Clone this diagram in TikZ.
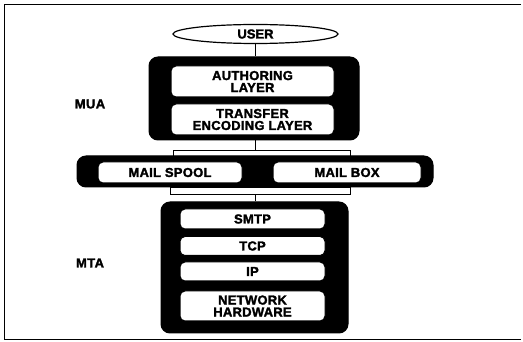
\documentclass[tikz,border=0pt]{standalone}
\usepackage{fontspec}
\setmainfont{Liberation Sans}
\usetikzlibrary{shapes.geometric}

\tikzset{
	stackbox/.style={shape=rectangle, draw, fill=black, rounded corners=9pt, line width=1pt},
	layerbox/.style={shape=rectangle, draw, fill=white, rounded corners=5pt, line width=1pt, align=center, inner sep=0pt,
		font=\bfseries\fontsize{13}{12}\selectfont\addfontfeature{LetterSpace=2,FakeBold=2}},
	barbox/.style={shape=rectangle, draw, fill=white, line width=1pt, inner sep=0pt},
	sidelabel/.style={font=\bfseries\fontsize{13}{13}\selectfont\addfontfeature{LetterSpace=3,FakeBold=2}},
	wire/.style={line width=1.2pt}
}

\begin{document}
\begin{tikzpicture}[x=1pt, y=-1pt]
	\useasboundingbox (0,0) rectangle (523,342);
	% Frame:
	\draw[line width=1pt] (521,5) -- (4,5) -- (4,340) -- (521,340);
	% User agent:
	\node[shape=ellipse, draw, line width=1.2pt, minimum width=165pt, minimum height=19pt, inner sep=0pt,
		font=\bfseries\fontsize{13}{12}\selectfont\addfontfeature{FakeBold=2}] (user) at (255.5, 34){USER};
	\node[stackbox, minimum width=210pt, minimum height=83pt] (mua) at (254, 98.5){};
	\node[layerbox, minimum width=163pt, minimum height=31pt] (authoring) at (252.5, 81.5){AUTHORING\\LAYER};
	\node[layerbox, minimum width=163pt, minimum height=31pt] (transfer) at (252.5, 119.5){TRANSFER\\ENCODING LAYER};
	\node[sidelabel] (mualabel) at (90, 104){MUA};
	% Spool and box:
	\node[barbox, minimum width=177pt, minimum height=6pt] (topbar) at (261.5, 154){};
	\node[stackbox, minimum width=356pt, minimum height=31pt] (band) at (255, 171.5){};
	\node[layerbox, minimum width=144pt, minimum height=21pt] (spool) at (170, 172.5){MAIL SPOOL};
	\node[layerbox, minimum width=148pt, minimum height=21pt] (mailbox) at (347, 172.5){MAIL BOX};
	\node[barbox, minimum width=180pt, minimum height=7pt] (botbar) at (260, 191.5){};
	% Transfer agent:
	\node[stackbox, minimum width=187pt, minimum height=131pt] (mta) at (254.5, 267.5){};
	\node[layerbox, minimum width=145pt, minimum height=20pt] (smtp) at (252.5, 219){SMTP};
	\node[layerbox, minimum width=145pt, minimum height=19pt] (tcp) at (252.5, 246){TCP};
	\node[layerbox, minimum width=145pt, minimum height=19pt] (ip) at (252.5, 271.5){IP};
	\node[layerbox, minimum width=145pt, minimum height=30pt] (hardware) at (252.5, 306){NETWORK\\HARDWARE};
	\node[sidelabel] (mtalabel) at (90, 263){MTA};
	% Wires:
	\draw[wire] (user.south) -- (user.south |- mua.north);
	\draw[wire] (user.south |- mua.south) -- (user.south |- topbar.north);
	\draw[wire] (user.south |- botbar.south) -- (user.south |- mta.north);
\end{tikzpicture}
\end{document}
